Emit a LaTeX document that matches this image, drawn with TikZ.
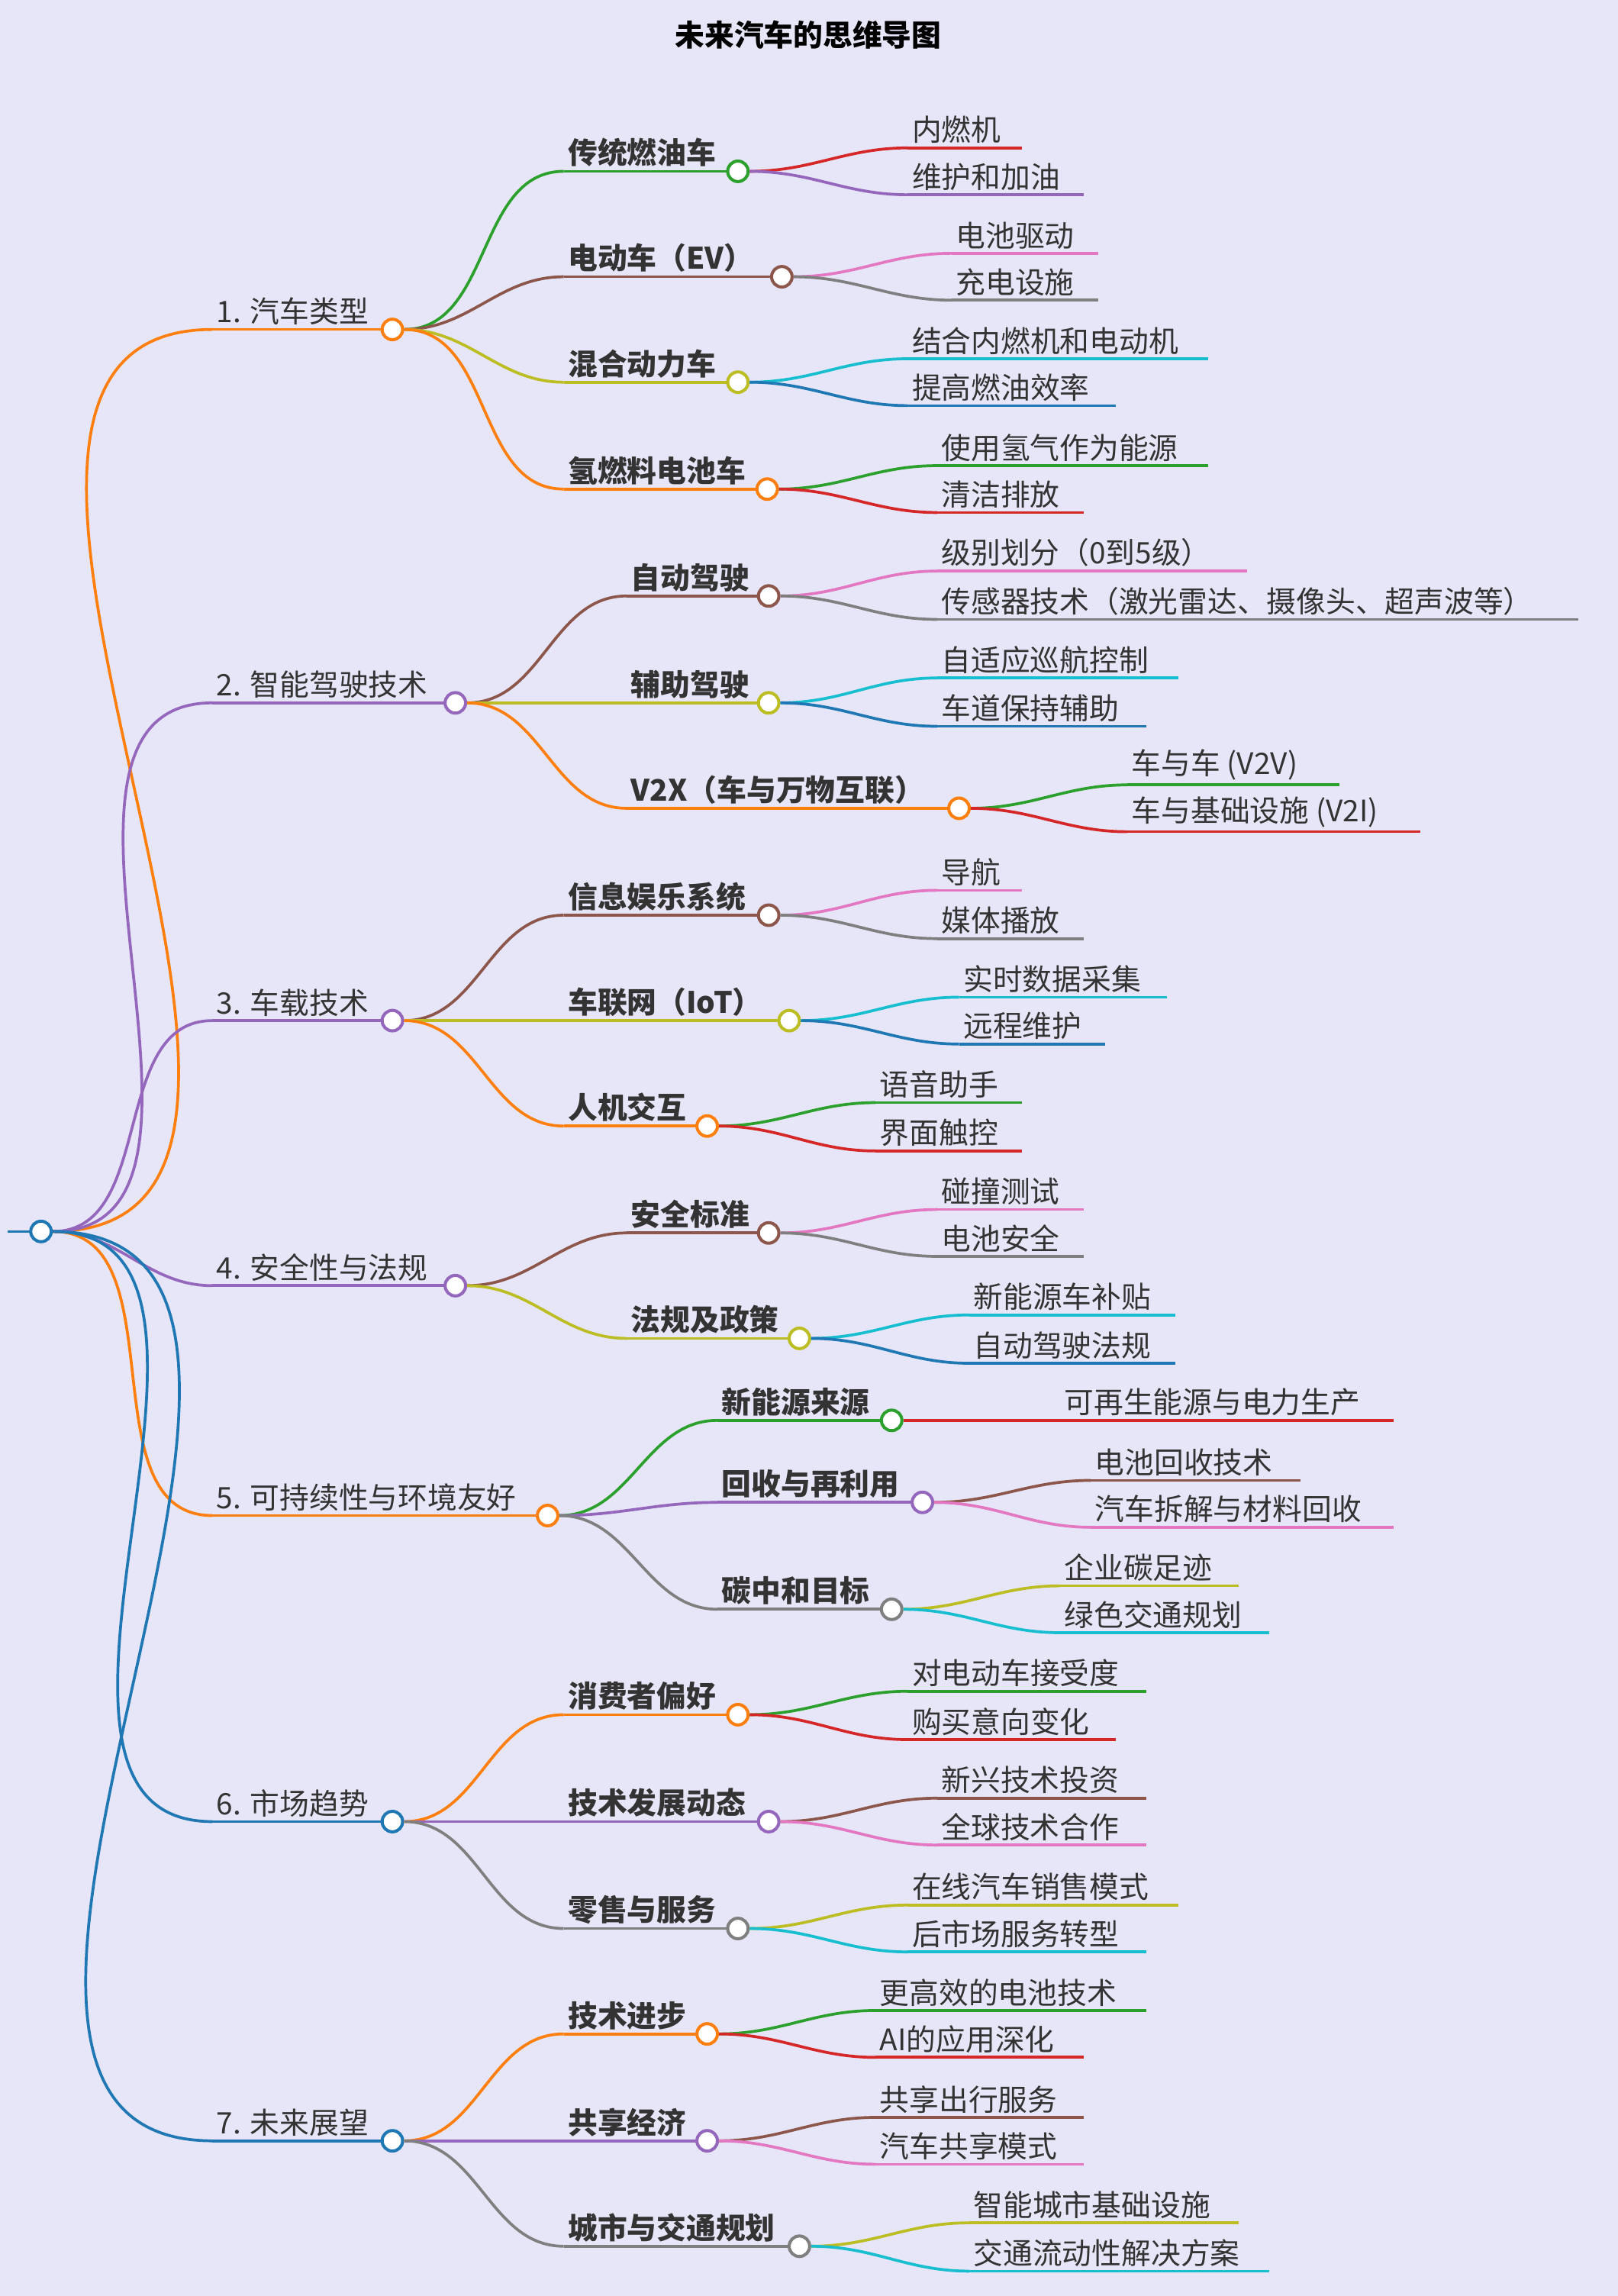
\documentclass[tikz,border=0pt]{standalone}
\usepackage{fontspec}
\setmainfont{Noto Sans CJK SC}
\definecolor{bgc}{HTML}{E6E6F8}
\definecolor{txt}{HTML}{333333}
\definecolor{corange}{HTML}{FF7F0E}
\definecolor{cgreen}{HTML}{2CA02C}
\definecolor{cbrown}{HTML}{8C564B}
\definecolor{colive}{HTML}{BCBD22}
\definecolor{cred}{HTML}{D62728}
\definecolor{cpurple}{HTML}{9467BD}
\definecolor{cpink}{HTML}{E377C2}
\definecolor{cgray}{HTML}{7F7F7F}
\definecolor{ccyan}{HTML}{17BECF}
\definecolor{cblue}{HTML}{1F77B4}
\tikzset{
  dot/.style={circle,draw=#1,fill=white,line width=1.2pt,minimum size=0.28cm,inner sep=0pt},
  lbl/.style={text=txt,font=\fontsize{11.5}{13}\selectfont,inner sep=1.5pt,anchor=south west},
  bl/.style={lbl,font=\fontsize{11.5}{13}\selectfont\bfseries},
  link/.style={#1,line width=1.1pt}
}
% topic: name, circle x, y, line start x, colour, text, parent, style
\newcommand{\topic}[8]{%
  \coordinate (#1s) at (#4,#3);
  \draw[link=#5] (#7.east) to[out=0,in=180] (#1s);
  \draw[link=#5] (#1s) -- (#2,#3);
  \node[dot=#5] (#1) at (#2,#3) {};
  \node[#8] at (#1s) {#6};}
% leaf: name, start x, end x, y, colour, text, parent
\newcommand{\leaf}[7]{%
  \coordinate (#1s) at (#2,#4);
  \coordinate (#1e) at (#3,#4);
  \draw[link=#5] (#7.east) to[out=0,in=180] (#1s);
  \draw[link=#5] (#1s) -- (#1e);
  \node[lbl] at (#1s) {#6};}
\begin{document}
\begin{tikzpicture}[x=0.02cm,y=-0.02cm]
\fill[bgc] (0,0) rectangle (1105,1568);
\useasboundingbox (0,0) rectangle (1105,1568);
\node[text=black,font=\fontsize{11.5}{13}\selectfont\bfseries] (title) at (552,24) {未来汽车的思维导图};
\coordinate (rs) at (5,841);
\draw[link=cblue] (rs) -- (28,841);
\node[dot=cblue] (root) at (28,841) {};
% 1
\topic{a}{268}{225}{145}{corange}{1. 汽车类型}{root}{lbl}
\topic{aa}{504}{117}{385}{cgreen}{传统燃油车}{a}{bl}
\leaf{aa1}{620}{698}{101}{cred}{内燃机}{aa}
\leaf{aa2}{620}{740}{133}{cpurple}{维护和加油}{aa}
\topic{ab}{534}{189}{385}{cbrown}{电动车（EV）}{a}{bl}
\leaf{ab1}{650}{750}{173}{cpink}{电池驱动}{ab}
\leaf{ab2}{650}{750}{205}{cgray}{充电设施}{ab}
\topic{ac}{504}{261}{385}{colive}{混合动力车}{a}{bl}
\leaf{ac1}{620}{825}{245}{ccyan}{结合内燃机和电动机}{ac}
\leaf{ac2}{620}{762}{277}{cblue}{提高燃油效率}{ac}
\topic{ad}{524}{334}{385}{corange}{氢燃料电池车}{a}{bl}
\leaf{ad1}{640}{825}{318}{cgreen}{使用氢气作为能源}{ad}
\leaf{ad2}{640}{740}{350}{cred}{清洁排放}{ad}
% 2
\topic{b}{311}{480}{145}{cpurple}{2. 智能驾驶技术}{root}{lbl}
\topic{ba}{525}{407}{428}{cbrown}{自动驾驶}{b}{bl}
\leaf{ba1}{640}{852}{390}{cpink}{级别划分（0到5级）}{ba}
\leaf{ba2}{640}{1078}{423}{cgray}{传感器技术（激光雷达、摄像头、超声波等）}{ba}
\topic{bb}{525}{480}{428}{colive}{辅助驾驶}{b}{bl}
\leaf{bb1}{640}{805}{463}{ccyan}{自适应巡航控制}{bb}
\leaf{bb2}{640}{783}{496}{cblue}{车道保持辅助}{bb}
\topic{bc}{655}{552}{428}{corange}{V2X（车与万物互联）}{b}{bl}
\leaf{bc1}{770}{915}{536}{cgreen}{车与车 (V2V)}{bc}
\leaf{bc2}{770}{970}{568}{cred}{车与基础设施 (V2I)}{bc}
% 3
\topic{c}{268}{697}{145}{cpurple}{3. 车载技术}{root}{lbl}
\topic{ca}{525}{625}{385}{cbrown}{信息娱乐系统}{c}{bl}
\leaf{ca1}{640}{698}{608}{cpink}{导航}{ca}
\leaf{ca2}{640}{740}{641}{cgray}{媒体播放}{ca}
\topic{cb}{539}{697}{385}{colive}{车联网（IoT）}{c}{bl}
\leaf{cb1}{655}{797}{681}{ccyan}{实时数据采集}{cb}
\leaf{cb2}{655}{755}{713}{cblue}{远程维护}{cb}
\topic{cc}{483}{769}{385}{corange}{人机交互}{c}{bl}
\leaf{cc1}{598}{698}{753}{cgreen}{语音助手}{cc}
\leaf{cc2}{598}{698}{786}{cred}{界面触控}{cc}
% 4
\topic{d}{311}{878}{145}{cpurple}{4. 安全性与法规}{root}{lbl}
\topic{da}{525}{842}{428}{cbrown}{安全标准}{d}{bl}
\leaf{da1}{640}{740}{826}{cpink}{碰撞测试}{da}
\leaf{da2}{640}{740}{858}{cgray}{电池安全}{da}
\topic{db}{546}{914}{428}{colive}{法规及政策}{d}{bl}
\leaf{db1}{662}{803}{898}{ccyan}{新能源车补贴}{db}
\leaf{db2}{662}{803}{931}{cblue}{自动驾驶法规}{db}
% 5
\topic{e}{374}{1035}{145}{corange}{5. 可持续性与环境友好}{root}{lbl}
\topic{ea}{609}{970}{490}{cgreen}{新能源来源}{e}{bl}
\leaf{ea1}{724}{952}{970}{cred}{可再生能源与电力生产}{ea}
\topic{eb}{630}{1026}{490}{cpurple}{回收与再利用}{e}{bl}
\leaf{eb1}{745}{888}{1011}{cbrown}{电池回收技术}{eb}
\leaf{eb2}{745}{952}{1043}{cpink}{汽车拆解与材料回收}{eb}
\topic{ec}{609}{1099}{490}{cgray}{碳中和目标}{e}{bl}
\leaf{ec1}{724}{846}{1083}{colive}{企业碳足迹}{ec}
\leaf{ec2}{724}{867}{1115}{ccyan}{绿色交通规划}{ec}
% 6
\topic{f}{268}{1244}{145}{cblue}{6. 市场趋势}{root}{lbl}
\topic{fa}{504}{1171}{385}{corange}{消费者偏好}{f}{bl}
\leaf{fa1}{620}{783}{1155}{cgreen}{对电动车接受度}{fa}
\leaf{fa2}{620}{762}{1188}{cred}{购买意向变化}{fa}
\topic{fb}{525}{1244}{385}{cpurple}{技术发展动态}{f}{bl}
\leaf{fb1}{640}{783}{1228}{cbrown}{新兴技术投资}{fb}
\leaf{fb2}{640}{783}{1260}{cpink}{全球技术合作}{fb}
\topic{fc}{504}{1317}{385}{cgray}{零售与服务}{f}{bl}
\leaf{fc1}{620}{805}{1301}{colive}{在线汽车销售模式}{fc}
\leaf{fc2}{620}{783}{1333}{ccyan}{后市场服务转型}{fc}
% 7
\topic{g}{268}{1462}{145}{cblue}{7. 未来展望}{root}{lbl}
\topic{ga}{483}{1389}{385}{corange}{技术进步}{g}{bl}
\leaf{ga1}{598}{783}{1373}{cgreen}{更高效的电池技术}{ga}
\leaf{ga2}{598}{740}{1405}{cred}{AI的应用深化}{ga}
\topic{gb}{483}{1462}{385}{cpurple}{共享经济}{g}{bl}
\leaf{gb1}{598}{740}{1446}{cbrown}{共享出行服务}{gb}
\leaf{gb2}{598}{740}{1478}{cpink}{汽车共享模式}{gb}
\topic{gc}{546}{1534}{385}{cgray}{城市与交通规划}{g}{bl}
\leaf{gc1}{662}{846}{1518}{colive}{智能城市基础设施}{gc}
\leaf{gc2}{662}{867}{1551}{ccyan}{交通流动性解决方案}{gc}
\end{tikzpicture}
\end{document}
